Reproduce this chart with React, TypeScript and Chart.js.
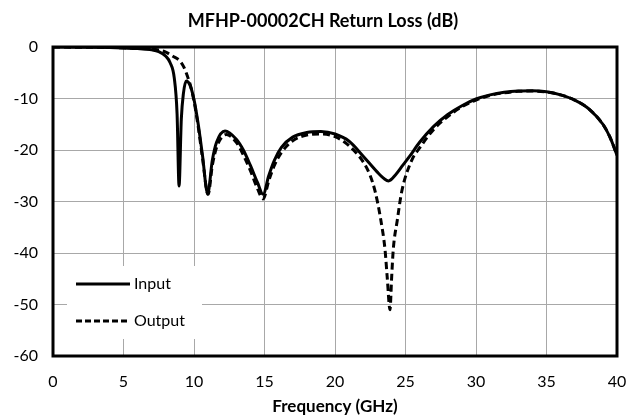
import React, { useEffect, useRef } from "react";
import { Chart, registerables } from "chart.js";

Chart.register(...registerables);

const chartTitle = "MFHP-00002CH Return Loss (dB)";
const xAxisTitle = "Frequency (GHz)";
const seriesNames = ["Input", "Output"];
const xTickValues = [0, 5, 10, 15, 20, 25, 30, 35, 40];
const yTickValues = [0, -10, -20, -30, -40, -50, -60];

const inputFreq = [
  0, 2, 4, 5, 6, 7, 7.5, 8, 8.3, 8.6, 8.8, 8.94, 9.1, 9.25, 9.45, 9.7, 10, 10.3, 10.6, 10.97,
  11.3, 11.6, 12.2, 13, 13.5, 14, 14.5, 14.9, 15.3, 15.7, 16.2, 17, 18, 19, 20, 21, 22, 23,
  23.5, 23.8, 24.3, 24.8, 25.3, 26, 27, 28, 29, 30, 31, 32, 33, 34, 35, 36, 37, 38, 39, 39.5, 40,
];
const inputLoss = [
  0, -0.05, -0.12, -0.2, -0.3, -0.55, -0.9, -1.8, -3, -6, -13, -27, -14, -9, -6.6, -7.3, -10.2, -15, -21, -28.5,
  -22, -18.5, -16.3, -17.9, -20, -23, -26.3, -28.6, -25, -22, -19.5, -17.5, -16.6, -16.4, -16.9, -18.3, -21.2, -24.3,
  -25.6, -26, -24.8, -23, -21.2, -18.5, -15.4, -13.1, -11.4, -10.1, -9.3, -8.8, -8.55, -8.5, -8.7, -9.3, -10.3, -12, -15, -17.5, -21,
];

const outputFreq = [
  0, 4, 6, 7, 7.5, 8, 8.5, 9, 9.3, 9.55, 9.75, 10, 10.3, 10.6, 11, 11.3, 11.6, 12.3, 13, 13.5,
  14, 14.5, 14.9, 15.3, 15.7, 16.2, 17, 18, 19, 20, 21, 22, 22.5, 22.85, 23.25, 23.55, 23.7, 23.9,
  24.02, 24.13, 24.42, 24.73, 25.44, 26, 27, 28, 29, 30, 31, 32, 33, 34, 35, 36, 37, 38, 39, 39.5, 40,
];
const outputLoss = [
  0, -0.1, -0.25, -0.4, -0.6, -1, -1.8, -2.7, -4, -5.8, -7.5, -10.5, -15.5, -21.5, -28.6, -23, -19.5, -17, -18.5, -21,
  -24, -27.5, -29.5, -26, -23, -20.5, -18.2, -17.1, -16.9, -17.4, -19.2, -22.3, -25, -28.1, -33.6, -39.4, -44.6, -51,
  -44.6, -39.4, -33.6, -28.1, -22, -19.6, -16, -13.5, -11.6, -10.3, -9.4, -8.9, -8.6, -8.55, -8.75, -9.3, -10.3, -12, -15, -17.5, -21,
];

const FONT = "Lato, 'Open Sans', sans-serif";

const decorPlugin = {
  id: "decor",
  afterDraw(chart: any) {
    const { ctx, chartArea } = chart;
    ctx.save();
    ctx.strokeStyle = "#000";
    ctx.lineWidth = 3;
    ctx.strokeRect(chartArea.left, chartArea.top, chartArea.right - chartArea.left, chartArea.bottom - chartArea.top);
    ctx.fillStyle = "#000";
    ctx.font = `bold 18px ${FONT}`;
    ctx.textAlign = "center";
    ctx.textBaseline = "middle";
    ctx.fillText(chartTitle, 323, 21);
    ctx.fillStyle = "#fff";
    ctx.fillRect(67, 266, 135, 73);
    const items = [
      { y: 284, dash: [] as number[] },
      { y: 321, dash: [6, 3] },
    ];
    items.forEach((it, i) => {
      ctx.strokeStyle = "#000";
      ctx.lineWidth = 3;
      ctx.setLineDash(it.dash);
      ctx.beginPath();
      ctx.moveTo(76, it.y);
      ctx.lineTo(130, it.y);
      ctx.stroke();
      ctx.setLineDash([]);
      ctx.fillStyle = "#000";
      ctx.font = `16px ${FONT}`;
      ctx.textAlign = "left";
      ctx.textBaseline = "middle";
      ctx.fillText(seriesNames[i], 134, it.y);
    });
    ctx.restore();
  },
};

export default function App() {
  const ref = useRef<HTMLCanvasElement | null>(null);
  useEffect(() => {
    if (!ref.current) return;
    const chart = new Chart(ref.current, {
      type: "line",
      data: {
        datasets: [
          {
            label: seriesNames[0],
            data: inputFreq.map((f, i) => ({ x: f, y: inputLoss[i] })),
            borderColor: "#000",
            borderWidth: 3,
            pointRadius: 0,
            cubicInterpolationMode: "monotone",
            fill: false,
          },
          {
            label: seriesNames[1],
            data: outputFreq.map((f, i) => ({ x: f, y: outputLoss[i] })),
            borderColor: "#000",
            borderWidth: 3,
            borderDash: [7, 4],
            pointRadius: 0,
            cubicInterpolationMode: "monotone",
            fill: false,
          },
        ],
      },
      options: {
        animation: false,
        responsive: false,
        devicePixelRatio: 1,
        layout: { padding: { top: 47, right: 14, left: 0, bottom: 0 } },
        plugins: { legend: { display: false }, title: { display: false }, tooltip: { enabled: false } },
        scales: {
          x: {
            type: "linear",
            min: 0,
            max: 40,
            afterBuildTicks: (s: any) => {
              s.ticks = xTickValues.map((v) => ({ value: v }));
            },
            afterFit: (s: any) => {
              s.height = 64;
              s.paddingLeft = 0;
              s.paddingRight = 0;
            },
            grid: { color: "#a8a8a8", lineWidth: 1, drawTicks: false },
            border: { display: false },
            ticks: { color: "#000", font: { family: FONT, size: 16 }, padding: 16, maxRotation: 0 },
            title: {
              display: true,
              text: xAxisTitle,
              color: "#000",
              font: { family: FONT, size: 17, weight: "bold" },
              padding: { top: 0, bottom: 3 },
            },
          },
          y: {
            type: "linear",
            min: -60,
            max: 0,
            afterBuildTicks: (s: any) => {
              s.ticks = yTickValues.map((v) => ({ value: v }));
            },
            afterFit: (s: any) => {
              s.width = 53;
              s.paddingTop = 0;
              s.paddingBottom = 0;
            },
            grid: { color: "#a8a8a8", lineWidth: 1, drawTicks: false },
            border: { display: false },
            ticks: { color: "#000", font: { family: FONT, size: 16 }, padding: 15 },
          },
        },
      },
      plugins: [decorPlugin],
    } as any);
    return () => chart.destroy();
  }, []);
  return (
    <div style={{ position: "fixed", left: 0, top: 0, width: 631, height: 420, background: "#fff" }}>
      <canvas ref={ref} width={631} height={420} style={{ display: "block", width: 631, height: 420 }} />
    </div>
  );
}
